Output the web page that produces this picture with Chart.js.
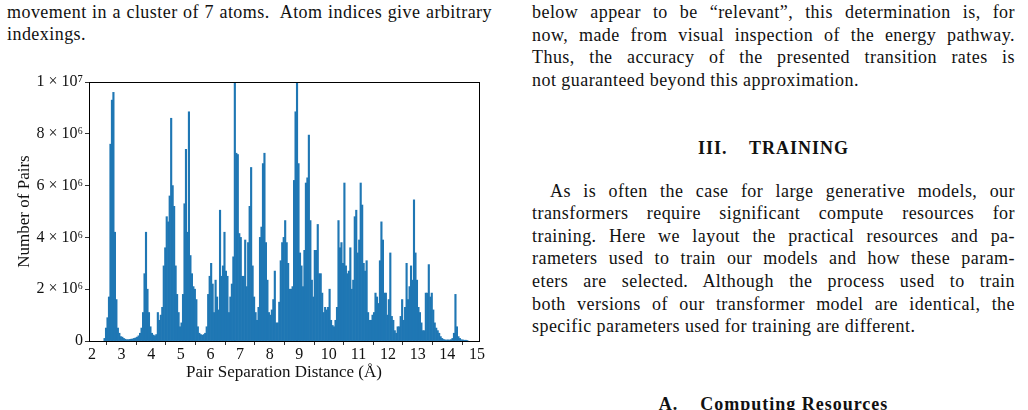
<!DOCTYPE html>
<html><head><meta charset="utf-8">
<script src="https://cdn.jsdelivr.net/npm/chart.js@4.4.1/dist/chart.umd.min.js"></script>
<style>
html,body{margin:0;padding:0;background:#fff;width:1028px;height:410px;overflow:hidden;}
.t{position:absolute;font-family:"Liberation Serif",serif;font-size:18px;letter-spacing:0.45px;line-height:17px;color:#111;white-space:nowrap;}
.j{text-align:justify;text-align-last:justify;white-space:normal;}
.h{font-weight:bold;text-align:center;letter-spacing:1px;}
#wrap{position:absolute;left:0;top:60px;width:500px;height:330px;}
</style></head><body>
<div class="t j" style="left:7px;top:4px;width:485px;">movement in a cluster of 7 atoms.&nbsp; Atom indices give arbitrary</div>
<div class="t" style="left:7px;top:26px;">indexings.</div>

<div class="t j" style="left:532px;top:4px;width:483px;">below appear to be “relevant”, this determination is, for</div>
<div class="t j" style="left:532px;top:26.5px;width:483px;">now, made from visual inspection of the energy pathway.</div>
<div class="t j" style="left:532px;top:49px;width:483px;">Thus, the accuracy of the presented transition rates is</div>
<div class="t" style="left:532px;top:72px;">not guaranteed beyond this approximation.</div>

<div class="t h" style="left:532px;top:140px;width:483px;">III.&nbsp;&nbsp;&nbsp; TRAINING</div>

<div class="t j" style="left:550px;top:182.5px;width:465px;">As is often the case for large generative models, our</div>
<div class="t j" style="left:532px;top:205px;width:483px;">transformers require significant compute resources for</div>
<div class="t j" style="left:532px;top:227.7px;width:483px;">training. Here we layout the practical resources and pa-</div>
<div class="t j" style="left:532px;top:250.3px;width:483px;">rameters used to train our models and how these param-</div>
<div class="t j" style="left:532px;top:273px;width:483px;">eters are selected. Although the process used to train</div>
<div class="t j" style="left:532px;top:295.6px;width:483px;">both versions of our transformer model are identical, the</div>
<div class="t" style="left:532px;top:318.2px;">specific parameters used for training are different.</div>

<div class="t h" style="left:532px;top:396.3px;width:483px;">A.&nbsp;&nbsp;&nbsp; Computing Resources</div>

<div id="wrap"><canvas id="c" width="500" height="330"></canvas></div>
<script>
// Histogram counts (in units of 10^6 pairs), bins of 0.05 Å starting at 2.40 Å
const binStart = 2.40;
const binWidth = 0.05;
const binCounts = [
  0.1, 0.5, 0.9, 1.7, 7.6, 9.3, 9.6, 4.2, 1.6, 0.5,
  0.3, 0.17, 0.15, 0.1, 0.07, 0.05, 0.05, 0.06, 0.07, 0.08,
  0.1, 0.12, 0.15, 0.2, 0.3, 0.5, 1.1, 2.6, 4.2, 2.0,
  1.1, 0.55, 0.3, 0.23, 0.2, 0.25, 1.1, 0.8, 1.0, 1.3,
  2.9, 3.6, 4.8, 4.6, 5.6, 8.6, 6.0, 5.2, 2.9, 1.8,
  1.1, 0.55, 0.7, 1.8, 5.3, 7.4, 4.2, 8.85, 3.3, 2.6,
  2.1, 2.0, 1.6, 0.55, 0.3, 0.25, 0.22, 0.25, 0.3, 0.55,
  1.8, 2.5, 3.0, 2.2, 1.1, 2.35, 1.7, 1.2, 5.05, 2.5,
  2.9, 4.2, 2.7, 2.5, 1.1, 1.7, 2.2, 3.25, 9.95, 7.25,
  7.2, 4.15, 4.0, 2.5, 2.5, 3.9, 2.1, 3.8, 5.2, 6.7,
  2.9, 1.7, 1.1, 0.8, 1.3, 4.0, 4.4, 6.85, 7.25, 3.8,
  2.35, 1.1, 1.0, 1.2, 1.6, 2.7, 0.7, 0.7, 1.5, 3.1,
  3.8, 4.0, 4.65, 3.8, 3.0, 2.0, 2.0, 2.1, 6.2, 8.85,
  9.95, 6.85, 3.4, 2.9, 2.1, 3.5, 6.1, 6.3, 7.95, 4.65,
  2.35, 1.7, 3.5, 3.5, 4.5, 2.6, 2.6, 1.85, 1.1, 1.3,
  1.2, 1.3, 2.0, 0.8, 0.6, 0.55, 0.8, 1.3, 4.65, 3.6,
  3.8, 3.0, 6.1, 2.9, 2.6, 2.7, 3.6, 2.0, 2.35, 4.8,
  5.05, 3.4, 3.9, 6.1, 5.25, 3.0, 2.7, 3.1, 1.1, 0.8,
  0.8, 1.0, 1.1, 1.85, 1.7, 1.45, 3.1, 4.6, 3.9, 1.85,
  1.85, 1.0, 1.6, 3.4, 0.95, 0.8, 0.4, 0.3, 0.55, 0.55,
  0.95, 1.6, 0.8, 1.3, 3.0, 1.6, 2.1, 2.9, 2.35, 5.45,
  3.4, 2.35, 1.3, 1.1, 0.7, 0.4, 0.4, 1.85, 1.85, 2.95,
  1.7, 1.85, 1.2, 0.7, 0.5, 0.4, 0.3, 0.17, 0.1, 0.06,
  0.04, 0.04, 0.04, 0.04, 0.05, 0.1, 0.3, 1.8, 0.55, 0.17,
  0.1, 0.05, 0.04, 0.03, 0.03, 0.02
];
const binCentres = binCounts.map((_, i) => +(binStart + binWidth * (i + 0.5)).toFixed(3));
const xTickValues = [2, 3, 4, 5, 6, 7, 8, 9, 10, 11, 12, 13, 14, 15];
const yTickValues = [0, 2e6, 4e6, 6e6, 8e6, 1e7];
const yTickLabels = ['0', '2 × 10⁶', '4 × 10⁶', '6 × 10⁶', '8 × 10⁶', '1 × 10⁷'];

const FAMILY = '"Liberation Serif", serif';
const framePlugin = {
  id: 'frame',
  afterDatasetsDraw(chart) {
    const a = chart.chartArea, c = chart.ctx;
    c.save();
    c.strokeStyle = '#000';
    c.lineWidth = 1;
    c.strokeRect(Math.round(a.left) + 0.5, Math.round(a.top) + 0.5, Math.round(a.right - a.left), Math.round(a.bottom - a.top));
    c.restore();
  }
};

new Chart(document.getElementById('c'), {
  type: 'bar',
  data: {
    datasets: [{
      data: binCentres.map((x, i) => ({ x: x, y: binCounts[i] * 1e6 })),
      backgroundColor: '#1f77b4',
      borderWidth: 0,
      barPercentage: 1,
      categoryPercentage: 1,
      grouped: false
    }]
  },
  options: {
    responsive: false,
    animation: false,
    devicePixelRatio: 1,
    layout: { padding: { top: 22, right: 21, left: 0, bottom: 0 } },
    plugins: { legend: { display: false }, tooltip: { enabled: false } },
    scales: {
      x: {
        type: 'linear', min: 1.9, max: 15.07, offset: false,
        afterBuildTicks: s => { s.ticks = xTickValues.map(v => ({ value: v })); },
        afterFit: s => { s.height = 49; },
        ticks: { callback: v => String(v), font: { family: FAMILY, size: 16 }, color: '#111', padding: 0, maxRotation: 0, autoSkip: false },
        grid: { display: true, drawOnChartArea: false, drawTicks: true, tickLength: 4, color: '#000', lineWidth: 0.8 },
        border: { display: true, color: '#000', width: 1 },
        title: { display: true, text: 'Pair Separation Distance (Å)', font: { family: FAMILY, size: 17 }, color: '#111', padding: { top: 0, bottom: 7 } }
      },
      y: {
        min: 0, max: 1e7,
        afterBuildTicks: s => { s.ticks = yTickValues.map(v => ({ value: v })); },
        afterFit: s => { s.width = 89; },
        ticks: { callback: v => yTickLabels[yTickValues.indexOf(v)], font: { family: FAMILY, size: 16 }, color: '#111', padding: 2, autoSkip: false },
        grid: { display: true, drawOnChartArea: false, drawTicks: true, tickLength: 4, color: '#000', lineWidth: 0.8 },
        border: { display: true, color: '#000', width: 1 },
        title: { display: true, text: 'Number of Pairs', font: { family: FAMILY, size: 17 }, color: '#111', padding: { top: 14, bottom: 0 } }
      }
    }
  },
  plugins: [framePlugin]
});
</script>
</body></html>
